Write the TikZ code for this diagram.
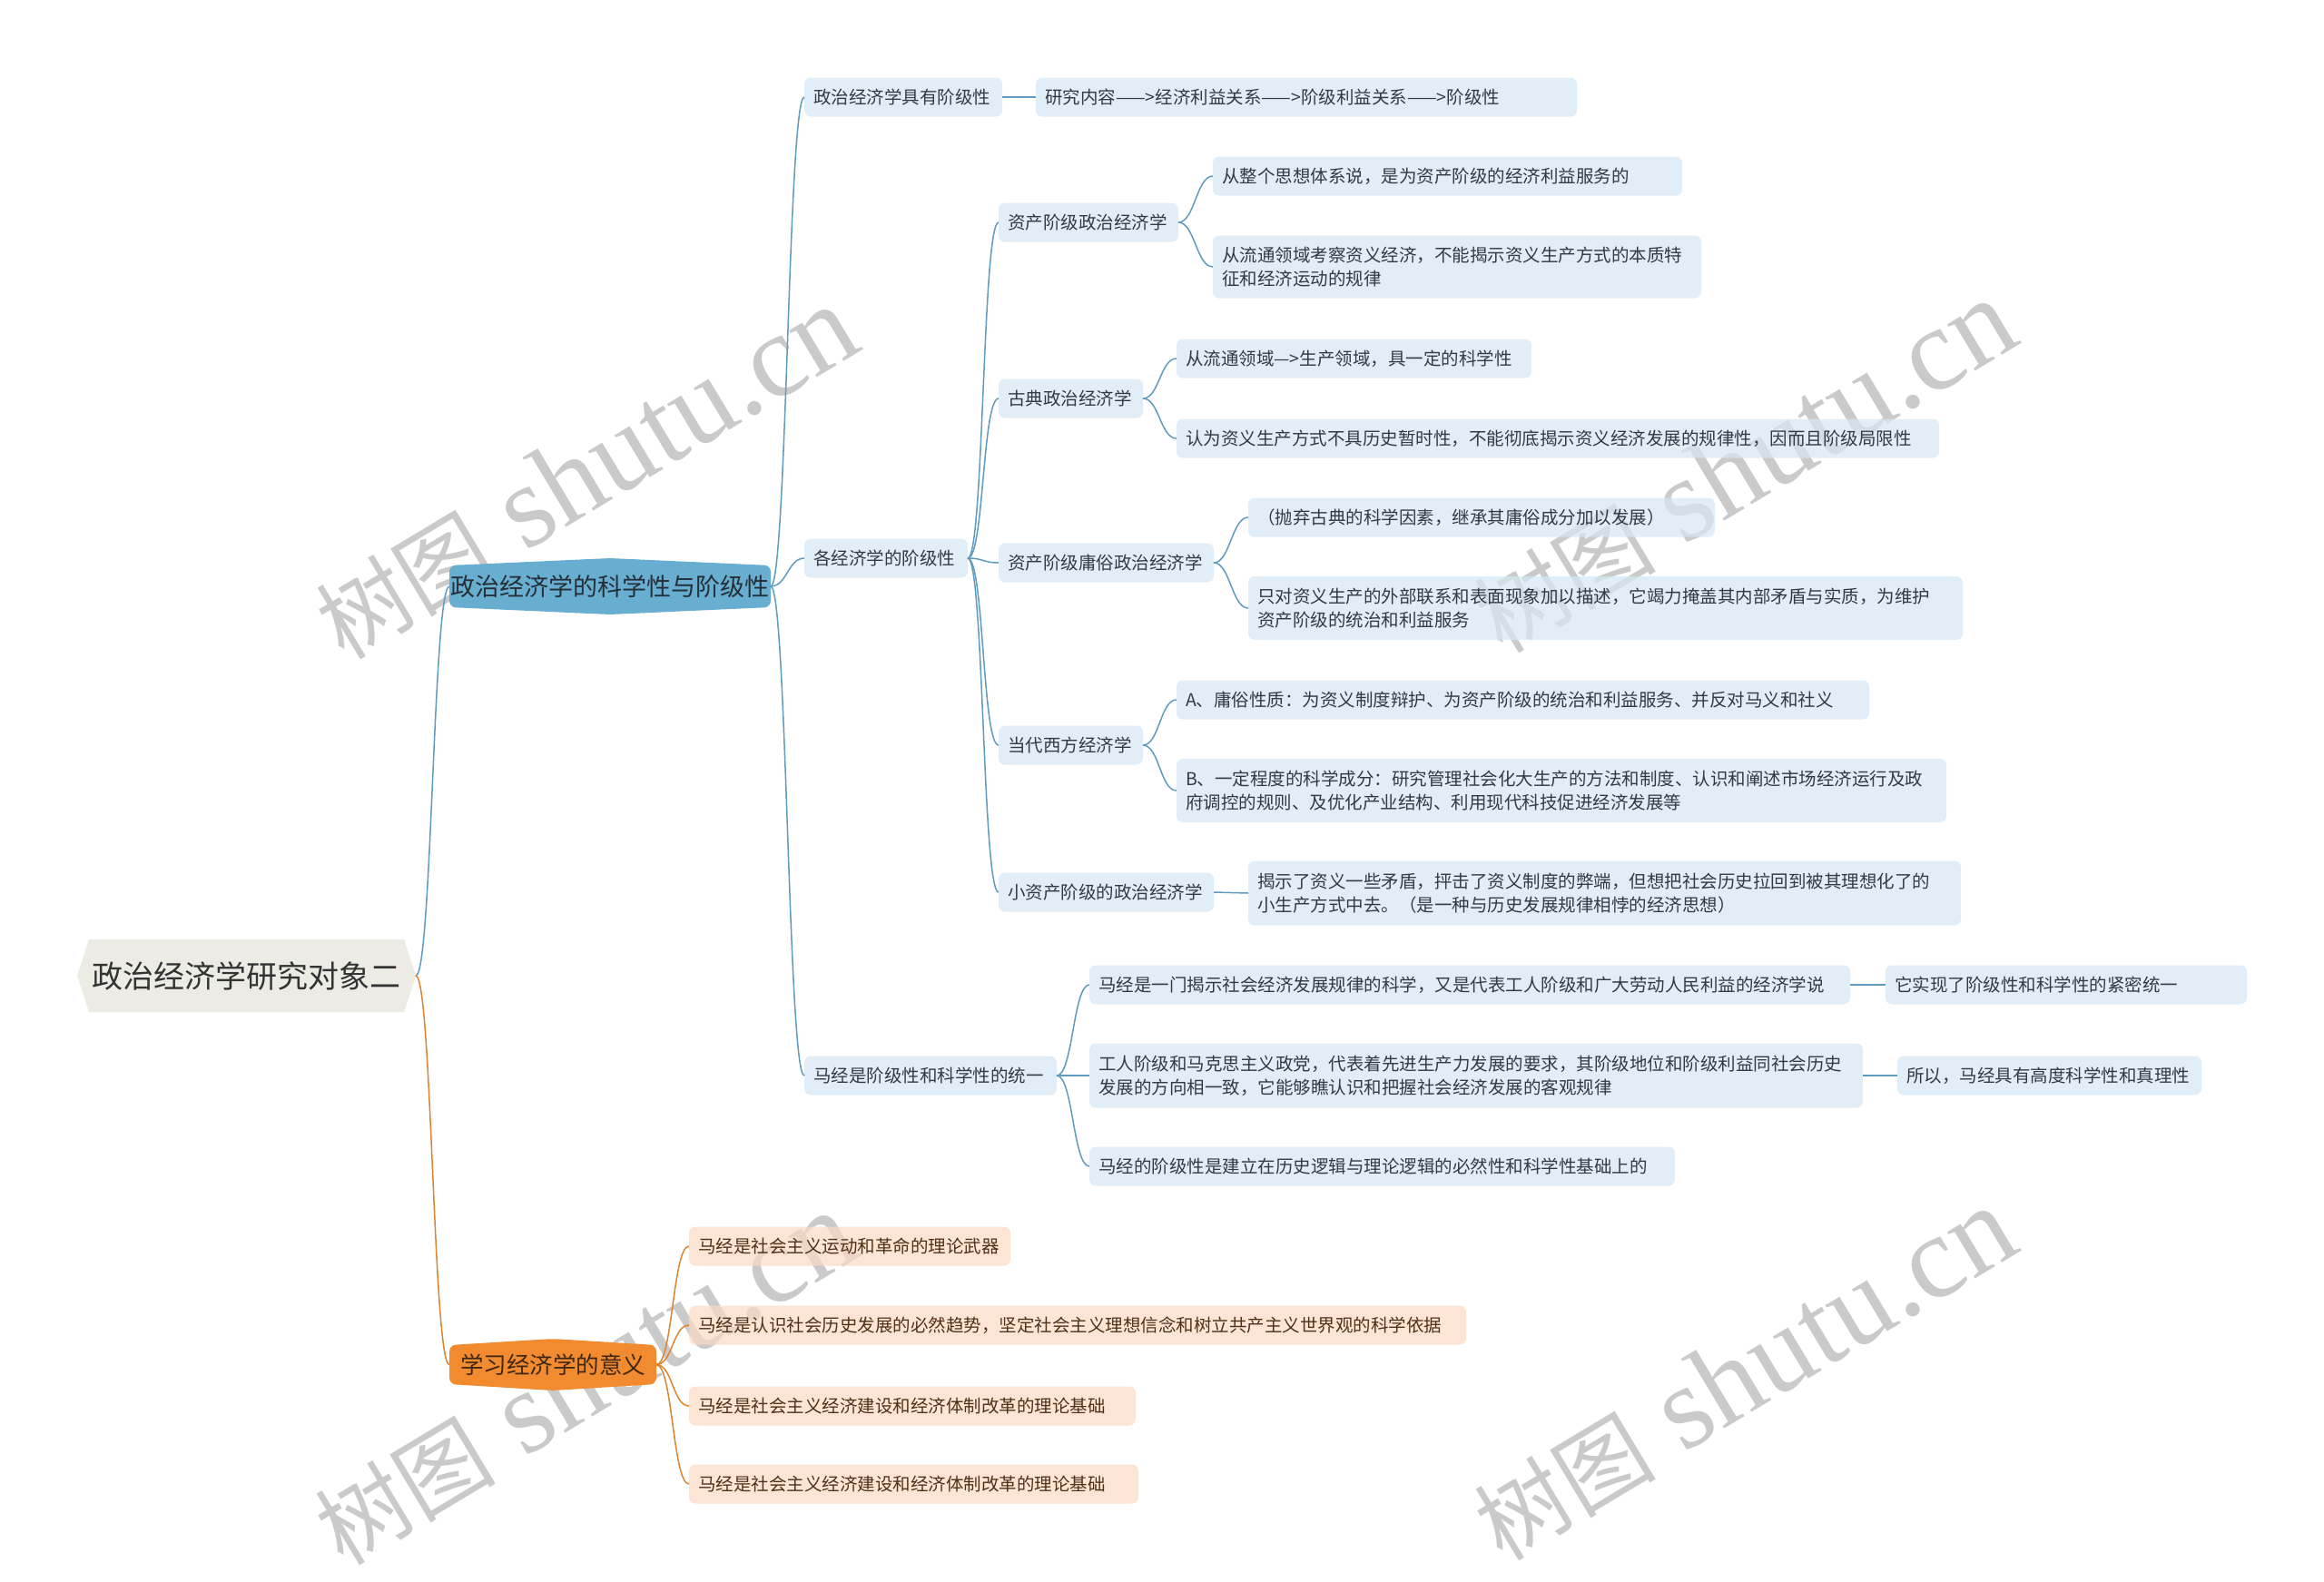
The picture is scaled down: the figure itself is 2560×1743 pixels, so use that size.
\documentclass[tikz,border=0pt]{standalone}
\usepackage{fontspec}
\setmainfont{Noto Sans CJK SC}
\newfontfamily\wmfont{Liberation Serif}
\usetikzlibrary{backgrounds}

\definecolor{rootfill}{HTML}{EDECE4}
\definecolor{bluehead}{HTML}{68AED1}
\definecolor{bluebox}{HTML}{D6E8F4}
\definecolor{blueline}{HTML}{5F9BBE}
\definecolor{bluetext}{HTML}{2F3B45}
\definecolor{orangehead}{HTML}{F28B30}
\definecolor{orangebox}{HTML}{FCDBC3}
\definecolor{orangeline}{HTML}{DC8430}
\definecolor{orangetext}{HTML}{4E3118}
\definecolor{wmgray}{HTML}{CACACA}

\newcommand\tsize[2]{\fontsize{#1pt}{#2pt}\selectfont}
\newcommand\watermark{{\tsize{100}{100}树图}{\wmfont\tsize{130}{130}\ shutu.cn}}

\begin{document}
\begin{tikzpicture}[x=1pt, y=-1pt,
  every node/.style={inner sep=0pt, outer sep=0pt},
  topic/.style={anchor=center, text=black!80, align=center},
  leaf/.style={anchor=west, fill=bluebox, fill opacity=0.7, text opacity=1,
    rounded corners=7pt, text=bluetext, align=left, inner xsep=10pt,
    inner ysep=4pt, minimum height=43pt, font=\tsize{19.5}{26}},
  orleaf/.style={leaf, fill=orangebox, text=orangetext},
  bl/.style={draw=blueline, line width=1.5pt,
    to path={.. controls +(18,0) and +(-18,0) .. (\tikztotarget)}},
  ol/.style={bl, draw=orangeline},
  wm/.style={text=wmgray, rotate=31},
]
\useasboundingbox (0,0) rectangle (2560,1743);

\node[topic, minimum width=373pt, minimum height=80pt, font=\tsize{34}{40}]
  (root) at (271.5,1075) {政治经济学研究对象二};
\node[topic, text=bluetext!80!black, minimum width=354pt, minimum height=46pt,
  font=\tsize{27}{32}] (sci) at (672,646) {政治经济学的科学性与阶级性};
\node[topic, text=orangetext!80!black, minimum width=228pt, minimum height=43pt,
  font=\tsize{25.5}{30}] (mean) at (609,1503.5) {学习经济学的意义};

\node[leaf, text width=198pt] (cls) at (886,107) {政治经济学具有阶级性};
\node[leaf, text width=576pt] (chain) at (1141,107) {研究内容——>经济利益关系——>阶级利益关系——>阶级性};
\node[leaf, text width=160pt] (each) at (886,615) {各经济学的阶级性};

\node[leaf, text width=178pt] (bour) at (1100,245) {资产阶级政治经济学};
\node[leaf, text width=497pt] (bour1) at (1336,194) {从整个思想体系说，是为资产阶级的经济利益服务的};
\node[leaf, text width=518pt, minimum height=69pt] (bour2) at (1336,294)
  {从流通领域考察资义经济，不能揭示资义生产方式的本质特\\征和经济运动的规律};

\node[leaf, text width=139pt] (clas) at (1100,439) {古典政治经济学};
\node[leaf, text width=371pt] (clas1) at (1296,395) {从流通领域—>生产领域，具一定的科学性};
\node[leaf, text width=820pt] (clas2) at (1296,483)
  {认为资义生产方式不具历史暂时性，不能彻底揭示资义经济发展的规律性，因而且阶级局限性};

\node[leaf, text width=217pt] (vulg) at (1100,620) {资产阶级庸俗政治经济学};
\node[leaf, text width=494pt] (vulg1) at (1375,570) {（抛弃古典的科学因素，继承其庸俗成分加以发展）};
\node[leaf, text width=767pt, minimum height=70pt] (vulg2) at (1375,670)
  {只对资义生产的外部联系和表面现象加以描述，它竭力掩盖其内部矛盾与实质，为维护\\资产阶级的统治和利益服务};

\node[leaf, text width=139pt] (modern) at (1100,821) {当代西方经济学};
\node[leaf, text width=743pt] (modern1) at (1296,771)
  {A、庸俗性质：为资义制度辩护、为资产阶级的统治和利益服务、并反对马义和社义};
\node[leaf, text width=828pt, minimum height=70pt] (modern2) at (1296,871)
  {B、一定程度的科学成分：研究管理社会化大生产的方法和制度、认识和阐述市场经济运行及政\\府调控的规则、及优化产业结构、利用现代科技促进经济发展等};

\node[leaf, text width=217pt] (petty) at (1100,983) {小资产阶级的政治经济学};
\node[leaf, text width=765pt, minimum height=71pt] (petty1) at (1375,984)
  {揭示了资义一些矛盾，抨击了资义制度的弊端，但想把社会历史拉回到被其理想化了的\\小生产方式中去。（是一种与历史发展规律相悖的经济思想）};

\node[leaf, text width=258pt] (unity) at (886,1185) {马经是阶级性和科学性的统一};
\node[leaf, text width=818pt] (unity1) at (1200,1085)
  {马经是一门揭示社会经济发展规律的科学，又是代表工人阶级和广大劳动人民利益的经济学说};
\node[leaf, text width=378pt] (unity1a) at (2077,1085) {它实现了阶级性和科学性的紧密统一};
\node[leaf, text width=832pt, minimum height=71pt] (unity2) at (1200,1185)
  {工人阶级和马克思主义政党，代表着先进生产力发展的要求，其阶级地位和阶级利益同社会历史\\发展的方向相一致，它能够瞧认识和把握社会经济发展的客观规律};
\node[leaf, text width=315pt] (unity2a) at (2090,1185) {所以，马经具有高度科学性和真理性};
\node[leaf, text width=625pt] (unity3) at (1200,1285)
  {马经的阶级性是建立在历史逻辑与理论逻辑的必然性和科学性基础上的};

\node[orleaf, text width=334pt] (mean1) at (759,1373) {马经是社会主义运动和革命的理论武器};
\node[orleaf, text width=836pt] (mean2) at (759,1460)
  {马经是认识社会历史发展的必然趋势，坚定社会主义理想信念和树立共产主义世界观的科学依据};
\node[orleaf, text width=472pt] (mean3) at (759,1549) {马经是社会主义经济建设和经济体制改革的理论基础};
\node[orleaf, text width=475pt] (mean4) at (759,1635) {马经是社会主义经济建设和经济体制改革的理论基础};

\begin{scope}[on background layer]
  \fill[white] (0,0) rectangle (2560,1743);
  \node[wm] (mark1) at (645,521) {\watermark};
  \node[wm] (mark2) at (1921,514) {\watermark};
  \node[wm] (mark3) at (644,1519) {\watermark};
  \node[wm] (mark4) at (1921,1514) {\watermark};
  \fill[rootfill] (root.west) -- ([xshift=13pt]root.north west) -- ([xshift=-13pt]root.north east)
    -- (root.east) -- ([xshift=-13pt]root.south east) -- ([xshift=13pt]root.south west) -- cycle;
  \fill[bluehead, rounded corners=7pt] (sci.north west) -- ([yshift=8pt]sci.north) -- (sci.north east)
    -- (sci.south east) -- ([yshift=-8pt]sci.south) -- (sci.south west) -- cycle;
  \fill[orangehead, rounded corners=7pt] (mean.north west) -- ([yshift=7pt]mean.north) -- (mean.north east)
    -- (mean.south east) -- ([yshift=-7pt]mean.south) -- (mean.south west) -- cycle;
\end{scope}

\draw[bl] (root.east) to (sci.west);
\draw[ol] (root.east) to (mean.west);
\foreach \n in {cls,each,unity} \draw[bl] (sci.east) to (\n.west);
\draw[bl] (cls.east) -- (chain.west);
\foreach \n in {bour,clas,vulg,modern,petty} \draw[bl] (each.east) to (\n.west);
\foreach \n in {bour,clas,vulg,modern} {
  \draw[bl] (\n.east) to (\n1.west);
  \draw[bl] (\n.east) to (\n2.west);
}
\draw[bl] (petty.east) -- (petty1.west);
\foreach \n in {unity1,unity2,unity3} \draw[bl] (unity.east) to (\n.west);
\draw[bl] (unity1.east) -- (unity1a.west);
\draw[bl] (unity2.east) -- (unity2a.west);
\foreach \n in {mean1,mean2,mean3,mean4} \draw[ol] (mean.east) to (\n.west);
\end{tikzpicture}
\end{document}
